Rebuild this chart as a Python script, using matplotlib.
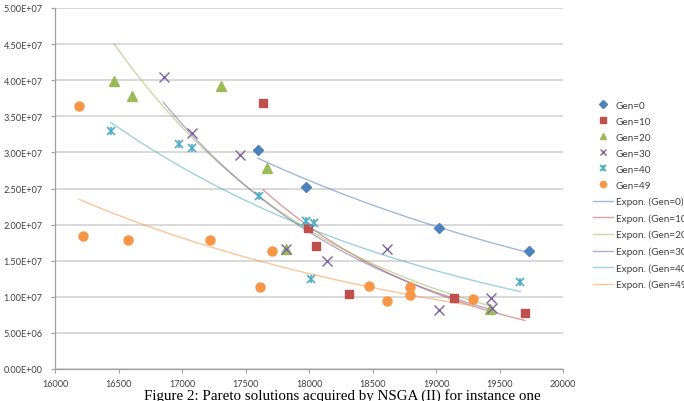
import numpy as np
import matplotlib
matplotlib.use("Agg")
import matplotlib.pyplot as plt
from matplotlib.ticker import FuncFormatter, MultipleLocator

plt.rcParams['font.family'] = ['Lato', 'DejaVu Sans']

# Pareto fronts per generation (makespan, cost)
gen0_x = [17600, 17975, 19020, 19735]
gen0_y = [3.03e7, 2.52e7, 1.95e7, 1.63e7]

gen10_x = [17640, 17990, 18055, 18315, 19140, 19700]
gen10_y = [3.68e7, 1.95e7, 1.71e7, 1.035e7, 0.99e7, 0.78e7]

gen20_x = [16465, 16610, 17310, 17672, 17816, 19425]
gen20_y = [3.99e7, 3.785e7, 3.92e7, 2.79e7, 1.66e7, 0.83e7]

gen30_x = [16855, 17080, 17460, 17820, 18140, 18612, 19026, 19435, 19441]
gen30_y = [4.04e7, 3.27e7, 2.96e7, 1.66e7, 1.49e7, 1.66e7, 0.82e7, 0.98e7, 0.84e7]

gen40_x = [16438, 16974, 17080, 17606, 17979, 18039, 18018, 19664]
gen40_y = [3.295e7, 3.11e7, 3.06e7, 2.39e7, 2.05e7, 2.02e7, 1.24e7, 1.2e7]

gen49_x = [16190, 16218, 16577, 17218, 17706, 17614, 18472, 18617, 18795, 18798, 19294]
gen49_y = [3.64e7, 1.84e7, 1.78e7, 1.78e7, 1.64e7, 1.13e7, 1.145e7, 0.94e7, 1.14e7, 1.02e7, 0.965e7]

labels = ["Gen=0", "Gen=10", "Gen=20", "Gen=30", "Gen=40", "Gen=49"]
colors = ["#4F81BD", "#C0504D", "#9BBB59", "#8064A2", "#4BACC6", "#F79646"]
series = [(gen0_x, gen0_y), (gen10_x, gen10_y), (gen20_x, gen20_y),
          (gen30_x, gen30_y), (gen40_x, gen40_y), (gen49_x, gen49_y)]

fig = plt.figure(figsize=(6.84, 4.02), dpi=100)
ax = fig.add_axes([55 / 684, 32 / 402, 508 / 684, 361 / 402])

handles = []
for i, (x, y) in enumerate(series):
    c = colors[i]
    if i == 0:
        h, = ax.plot(x, y, ls='none', marker='D', ms=5.2, color=c, mec=c, zorder=3)
    elif i == 1:
        h, = ax.plot(x, y, ls='none', marker='s', ms=6.2, color=c, mec=c, zorder=3)
    elif i == 2:
        h, = ax.plot(x, y, ls='none', marker='^', ms=7, color=c, mec=c, zorder=3)
    elif i == 3:
        h, = ax.plot(x, y, ls='none', marker='x', ms=6.5, mew=1.0, color=c, zorder=3)
    elif i == 4:
        h1, = ax.plot(x, y, ls='none', marker='x', ms=6, mew=1.2, color=c, zorder=3)
        h2, = ax.plot(x, y, ls='none', marker='|', ms=6, mew=1.2, color=c, zorder=3)
        h = (h1, h2)
    else:
        h, = ax.plot(x, y, ls='none', marker='o', ms=6.5, color=c, mec=c, zorder=3)
    handles.append(h)

# Excel-style exponential trendlines (least squares on ln y)
trend_handles = []
for i, (x, y) in enumerate(series):
    x = np.array(x, dtype=float)
    y = np.array(y, dtype=float)
    b, lna = np.polyfit(x, np.log(y), 1)
    xs = np.linspace(x.min(), x.max(), 100)
    h, = ax.plot(xs, np.exp(lna + b * xs), color=colors[i], lw=1.0, alpha=0.55, zorder=2)
    trend_handles.append(h)

ax.set_xlim(16000, 20000)
ax.set_ylim(0, 5e7)
ax.xaxis.set_major_locator(MultipleLocator(500))
ax.yaxis.set_major_locator(MultipleLocator(5e6))
ax.yaxis.set_major_formatter(FuncFormatter(lambda v, p: '{:.2E}'.format(v)))
ax.grid(axis='y', color='#CFCFCF', lw=1.1)
ax.set_axisbelow(True)
for s in ['top', 'right']:
    ax.spines[s].set_visible(False)
for s in ['left', 'bottom']:
    ax.spines[s].set_color('#A0A0A0')
    ax.spines[s].set_linewidth(0.9)
ax.tick_params(colors='#A0A0A0', labelcolor='#404040', labelsize=6.6, length=3, width=0.8)
ax.tick_params(axis='y', pad=6)
ax.tick_params(axis='x', pad=4)

all_handles = handles + trend_handles
all_labels = labels + ["Expon. (" + l + ")" for l in labels]
fig.legend(all_handles, all_labels, loc='center left', bbox_to_anchor=(593 / 684, 1 - 196 / 402),
           frameon=False, fontsize=7.2, handlelength=2.0, handletextpad=0.25,
           labelspacing=0.7, borderpad=0, borderaxespad=0, labelcolor='#404040', markerscale=0.7)

fig.text(0.5, 2 / 402, "Figure 2: Pareto solutions acquired by NSGA (II) for instance one",
         ha='center', va='baseline', family='Liberation Serif', fontsize=10.8, color='black')

fig.savefig("out.png", dpi=100)
